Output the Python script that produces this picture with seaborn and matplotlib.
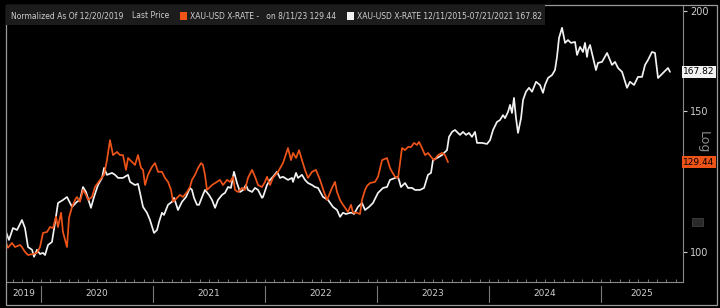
import numpy as np
import pandas as pd
import matplotlib
matplotlib.use("Agg")
import matplotlib.pyplot as plt
from matplotlib.patches import Rectangle
from matplotlib.ticker import FixedLocator, NullFormatter, NullLocator
from matplotlib import font_manager
import seaborn as sns

# ---------------- data ----------------
orange_name = "XAU-USD X-RATE - on 8/11/23"
white_name = "XAU-USD X-RATE 12/11/2015-07/21/2021"

orange_year = [
    2019.688, 2019.705, 2019.741, 2019.768, 2019.813, 2019.830, 2019.857, 2019.884, 2019.929, 2019.964,
    2019.991, 2020.018, 2020.054, 2020.080, 2020.107, 2020.134, 2020.152, 2020.179, 2020.196, 2020.232,
    2020.250, 2020.277, 2020.304, 2020.321, 2020.348, 2020.375, 2020.402, 2020.420, 2020.455, 2020.482,
    2020.527, 2020.563, 2020.589, 2020.616, 2020.643, 2020.679, 2020.705, 2020.732, 2020.759, 2020.777,
    2020.813, 2020.839, 2020.866, 2020.893, 2020.911, 2020.929, 2020.955, 2020.991, 2021.018, 2021.045,
    2021.080, 2021.107, 2021.134, 2021.161, 2021.179, 2021.214, 2021.241, 2021.268, 2021.304, 2021.330,
    2021.348, 2021.375, 2021.402, 2021.429, 2021.446, 2021.464, 2021.482, 2021.527, 2021.571, 2021.598,
    2021.625, 2021.661, 2021.688, 2021.714, 2021.732, 2021.759, 2021.795, 2021.821, 2021.848, 2021.884,
    2021.911, 2021.938, 2021.973, 2022.000, 2022.018, 2022.045, 2022.071, 2022.116, 2022.161, 2022.205,
    2022.232, 2022.250, 2022.277, 2022.304, 2022.330, 2022.357, 2022.384, 2022.420, 2022.455, 2022.491,
    2022.527, 2022.554, 2022.598, 2022.625, 2022.643, 2022.670, 2022.696, 2022.741, 2022.768, 2022.786,
    2022.821, 2022.848, 2022.866, 2022.893, 2022.911, 2022.938, 2022.982, 2023.009, 2023.045, 2023.089,
    2023.116, 2023.134, 2023.161, 2023.188, 2023.205, 2023.223, 2023.250, 2023.277, 2023.304, 2023.330,
    2023.357, 2023.375, 2023.402, 2023.429, 2023.455, 2023.491, 2023.509, 2023.545, 2023.580, 2023.607,
    2023.634,
]
orange_value = [
    102.6, 101.2, 102.6, 101.4, 102.0, 101.4, 100.0, 99.1, 99.4, 99.7,
    101.4, 105.6, 105.9, 107.4, 107.1, 110.6, 107.4, 111.9, 105.9, 101.4,
    110.3, 113.8, 116.1, 117.1, 115.5, 119.5, 117.8, 116.1, 117.1, 120.5,
    123.0, 124.8, 130.2, 137.9, 132.1, 133.3, 132.1, 132.1, 126.6, 131.0,
    129.5, 128.4, 132.1, 127.3, 126.6, 121.2, 124.8, 127.7, 129.1, 125.9,
    125.9, 123.7, 122.3, 119.5, 115.5, 116.8, 117.8, 117.1, 118.8, 120.5,
    123.0, 124.8, 127.3, 129.1, 128.4, 124.8, 119.5, 121.2, 122.3, 123.0,
    121.2, 123.0, 122.3, 124.1, 119.5, 118.8, 120.2, 119.5, 123.7, 126.6,
    124.1, 121.2, 120.5, 122.3, 124.1, 121.2, 123.7, 125.9, 129.1, 134.8,
    130.2, 132.9, 131.0, 134.0, 130.2, 126.6, 123.7, 125.9, 126.6, 123.0,
    118.8, 116.1, 120.2, 122.3, 118.8, 116.1, 114.5, 112.2, 114.5, 111.9,
    111.9, 111.5, 116.1, 119.5, 120.9, 121.9, 122.3, 124.1, 130.2, 131.0,
    127.3, 125.9, 124.1, 123.7, 129.1, 134.8, 134.0, 135.2, 135.2, 136.8,
    136.0, 137.2, 134.8, 132.1, 132.9, 131.0, 130.2, 132.1, 132.9, 132.1,
    129.44,
]

white_year = [
    2019.688, 2019.714, 2019.750, 2019.786, 2019.830, 2019.857, 2019.884, 2019.920, 2019.938, 2019.964,
    2019.991, 2020.018, 2020.036, 2020.063, 2020.098, 2020.125, 2020.152, 2020.196, 2020.232, 2020.277,
    2020.321, 2020.348, 2020.375, 2020.402, 2020.446, 2020.473, 2020.509, 2020.545, 2020.563, 2020.589,
    2020.634, 2020.661, 2020.688, 2020.732, 2020.777, 2020.795, 2020.839, 2020.866, 2020.884, 2020.911,
    2020.946, 2020.973, 2021.009, 2021.036, 2021.054, 2021.080, 2021.098, 2021.134, 2021.170, 2021.188,
    2021.223, 2021.259, 2021.295, 2021.330, 2021.348, 2021.366, 2021.393, 2021.411, 2021.438, 2021.464,
    2021.500, 2021.527, 2021.554, 2021.580, 2021.616, 2021.643, 2021.670, 2021.696, 2021.723, 2021.750,
    2021.777, 2021.804, 2021.830, 2021.848, 2021.884, 2021.911, 2021.938, 2021.973, 2021.982, 2022.018,
    2022.045, 2022.071, 2022.107, 2022.134, 2022.161, 2022.205, 2022.241, 2022.250, 2022.277, 2022.295,
    2022.330, 2022.357, 2022.384, 2022.420, 2022.446, 2022.473, 2022.518, 2022.563, 2022.607, 2022.643,
    2022.670, 2022.696, 2022.723, 2022.759, 2022.777, 2022.795, 2022.830, 2022.866, 2022.893, 2022.929,
    2022.964, 2023.009, 2023.054, 2023.089, 2023.116, 2023.161, 2023.188, 2023.214, 2023.250, 2023.277,
    2023.313, 2023.339, 2023.384, 2023.420, 2023.455, 2023.482, 2023.500, 2023.536, 2023.580, 2023.598,
    2023.625, 2023.643, 2023.670, 2023.696, 2023.741, 2023.768, 2023.795, 2023.821, 2023.848, 2023.875,
    2023.893, 2023.938, 2023.982, 2024.009, 2024.036, 2024.071, 2024.098, 2024.125, 2024.143, 2024.170,
    2024.188, 2024.205, 2024.223, 2024.241, 2024.259, 2024.286, 2024.304, 2024.330, 2024.357, 2024.384,
    2024.420, 2024.455, 2024.482, 2024.500, 2024.527, 2024.563, 2024.589, 2024.607, 2024.625, 2024.652,
    2024.679, 2024.705, 2024.732, 2024.768, 2024.786, 2024.813, 2024.839, 2024.857, 2024.875, 2024.884,
    2024.902, 2024.955, 2024.973, 2025.009, 2025.054, 2025.080, 2025.098, 2025.125, 2025.152, 2025.188,
    2025.232, 2025.259, 2025.295, 2025.330, 2025.366, 2025.393, 2025.420, 2025.455, 2025.482, 2025.509,
    2025.554, 2025.598, 2025.616,
]
white_value = [
    105.9, 103.5, 107.1, 106.5, 109.6, 107.1, 101.4, 100.6, 98.6, 100.6,
    99.4, 99.7, 99.1, 102.0, 102.9, 108.7, 115.1, 116.1, 117.1, 113.8,
    115.5, 116.1, 120.5, 118.8, 113.5, 117.1, 121.2, 123.7, 127.3, 124.8,
    125.5, 124.8, 123.7, 123.7, 124.8, 122.3, 121.2, 121.6, 118.5, 113.8,
    111.9, 109.6, 105.6, 106.5, 109.0, 111.9, 111.2, 114.5, 115.5, 116.8,
    112.8, 115.5, 117.1, 120.2, 119.5, 116.8, 114.5, 114.5, 117.1, 119.5,
    117.8, 116.1, 113.5, 116.1, 117.8, 118.5, 120.5, 120.2, 125.9, 121.9,
    118.8, 119.5, 121.2, 119.5, 118.8, 120.2, 119.5, 116.8, 117.1, 121.2,
    123.0, 124.1, 125.9, 123.7, 124.1, 123.0, 123.7, 122.3, 125.5, 123.7,
    124.8, 123.0, 121.9, 121.2, 120.5, 120.2, 117.1, 116.1, 113.8, 112.8,
    110.6, 111.9, 111.5, 111.9, 111.9, 111.5, 113.8, 115.1, 112.8, 113.8,
    115.1, 118.5, 120.2, 120.5, 123.0, 123.7, 124.1, 120.5, 121.9, 120.2,
    120.2, 119.5, 119.5, 120.2, 124.8, 125.5, 130.2, 131.0, 132.1, 132.9,
    134.0, 139.2, 141.2, 142.0, 140.0, 141.2, 140.0, 140.8, 139.2, 141.2,
    136.8, 136.8, 136.4, 137.9, 142.0, 145.3, 146.1, 148.2, 146.9, 149.6,
    152.6, 149.1, 155.7, 146.9, 140.8, 146.9, 154.8, 158.5, 160.3, 158.5,
    163.1, 161.6, 158.0, 161.6, 164.9, 166.3, 168.7, 175.2, 185.0, 190.5,
    182.4, 183.9, 182.4, 182.9, 176.2, 180.3, 177.7, 182.4, 175.2, 178.8,
    181.3, 168.7, 172.2, 172.7, 177.2, 173.7, 171.2, 172.7, 169.7, 167.8,
    160.3, 163.1, 161.6, 165.4, 165.4, 171.2, 173.7, 177.7, 177.2, 164.9,
    167.3, 169.7, 167.82,
]

year_labels = ["2019", "2020", "2021", "2022", "2023", "2024", "2025"]
y_ticks = [100, 150, 200]
legend_prefix = "Normalized As Of 12/20/2019"
legend_last = "Last Price"
orange_legend = "XAU-USD X-RATE -   on 8/11/23 129.44"
white_legend = "XAU-USD X-RATE 12/11/2015-07/21/2021 167.82"
orange_last = "129.44"
white_last = "167.82"

ORANGE = "#ee5418"
WHITE = "#f2f2f2"
TXT = "#cfcfcf"

df = pd.concat([
    pd.DataFrame({"year": orange_year, "value": orange_value, "series": orange_name}),
    pd.DataFrame({"year": white_year, "value": white_value, "series": white_name}),
], ignore_index=True)

# ---------------- fonts ----------------
def has_font(name):
    try:
        font_manager.findfont(font_manager.FontProperties(family=name),
                              fallback_to_default=False)
        return True
    except Exception:
        return False

NARROW = "Liberation Sans Narrow" if has_font("Liberation Sans Narrow") else None

# ---------------- figure ----------------
sns.set_theme(style="dark")
plt.rcParams["font.family"] = ["DejaVu Sans"]
W, H = 720, 308
fig = plt.figure(figsize=(W / 100, H / 100), dpi=100, facecolor="black")

def fx(px):
    return px / W

def fy(py):
    return 1 - py / H

x0, x1 = 2019.6875, 2025.732
ax = fig.add_axes([fx(6), fy(282), fx(683) - fx(6), fy(5) - fy(282)])
ax.set_facecolor("black")

sns.lineplot(data=df, x="year", y="value", hue="series",
             hue_order=[white_name, orange_name],
             palette={orange_name: ORANGE, white_name: WHITE},
             estimator=None, sort=False, linewidth=1.25, legend=False, ax=ax)
ax.lines[1].set_zorder(3)
ax.lines[0].set_zorder(2)

ax.set_yscale("log")
ax.set_ylim(91.7, 203.4)
ax.set_xlim(x0, x1)
ax.yaxis.set_major_locator(FixedLocator(y_ticks))
ax.yaxis.set_minor_locator(NullLocator())
ax.set_yticklabels([str(t) for t in y_ticks])
ax.yaxis.tick_right()
ax.tick_params(axis="y", which="major", colors=TXT, labelsize=7, length=3,
               width=0.8, pad=2, direction="out", right=True, left=False)
ax.set_xlabel("")
ax.set_ylabel("")

months = [2019.75 + i / 12 for i in range(0, 72)]
ax.xaxis.set_major_locator(FixedLocator([2020, 2021, 2022, 2023, 2024, 2025]))
ax.xaxis.set_minor_locator(FixedLocator([m for m in months if x0 < m < x1]))
ax.xaxis.set_major_formatter(NullFormatter())
ax.tick_params(axis="x", which="both", colors="#8a8a8a", length=2, width=0.6,
               direction="in", bottom=True)
ax.grid(False)
for side in ["left", "top"]:
    ax.spines[side].set_visible(False)
for side in ["right", "bottom"]:
    ax.spines[side].set_visible(True)
    ax.spines[side].set_color("#8a8a8a")
    ax.spines[side].set_linewidth(0.8)

# year band
band = fig.add_axes([fx(6), fy(305), fx(683) - fx(6), fy(283) - fy(305)])
band.set_facecolor("black")
band.set_xlim(x0, x1)
band.set_ylim(0, 1)
band.axis("off")
bounds = [x0, 2020, 2021, 2022, 2023, 2024, 2025, x1]
for b in bounds[1:-1]:
    band.plot([b, b], [0.15, 0.85], color="#7a7a7a", lw=0.8)
for i, lab in enumerate(year_labels):
    band.text((bounds[i] + bounds[i + 1]) / 2, 0.5, lab, color=TXT, fontsize=6.5,
              ha="center", va="center")

# outer border
fig.add_artist(Rectangle((fx(6), fy(305)), fx(717) - fx(6), fy(5) - fy(305),
                         transform=fig.transFigure, fill=False,
                         edgecolor="#9a9a9a", lw=0.9))

# legend header box
fig.add_artist(Rectangle((fx(6), fy(25)), fx(545) - fx(6), fy(5) - fy(25),
                         transform=fig.transFigure, facecolor="#1c1c1c",
                         edgecolor="none", zorder=5))
ty = fy(16)
if NARROW:
    lfont = dict(family=[NARROW, "DejaVu Sans"], fontsize=7.2)
else:
    lfont = dict(family=["DejaVu Sans"], fontsize=5.5)
fig.text(fx(11), ty, legend_prefix, color=TXT, va="center", zorder=6, **lfont)
fig.text(fx(132), ty, legend_last, color=TXT, va="center", zorder=6, **lfont)
fig.add_artist(Rectangle((fx(180), fy(20)), fx(7), fy(12) - fy(20),
                         transform=fig.transFigure, facecolor=ORANGE,
                         edgecolor="none", zorder=6))
fig.text(fx(190), ty, orange_legend, color=TXT, va="center", zorder=6, **lfont)
fig.add_artist(Rectangle((fx(347), fy(20)), fx(7), fy(12) - fy(20),
                         transform=fig.transFigure, facecolor=WHITE,
                         edgecolor="none", zorder=6))
fig.text(fx(357), ty, white_legend, color=TXT, va="center", zorder=6, **lfont)

# last value tags on right axis
xt = (699 - 6) / (683 - 6)
ax.text(xt, white_value[-1], white_last, transform=ax.get_yaxis_transform(),
        color="black", fontsize=6.5, ha="center", va="center", clip_on=False,
        bbox=dict(boxstyle="square,pad=0.18", facecolor=WHITE, edgecolor="none"))
ax.text(xt, orange_value[-1], orange_last, transform=ax.get_yaxis_transform(),
        color="black", fontsize=6.5, ha="center", va="center", clip_on=False,
        bbox=dict(boxstyle="square,pad=0.18", facecolor=ORANGE, edgecolor="none"))

fig.text(fx(703), fy(142), "Log", rotation=270, color="#8a8a8a", fontsize=9,
         ha="center", va="center")

# small toolbar icon on the right axis area
fig.add_artist(Rectangle((fx(692), fy(226)), fx(11), fy(218) - fy(226),
                         transform=fig.transFigure, facecolor="#2a2a2a",
                         edgecolor="#4a4a4a", lw=0.5))

fig.savefig("out.png", dpi=100, facecolor="black")
